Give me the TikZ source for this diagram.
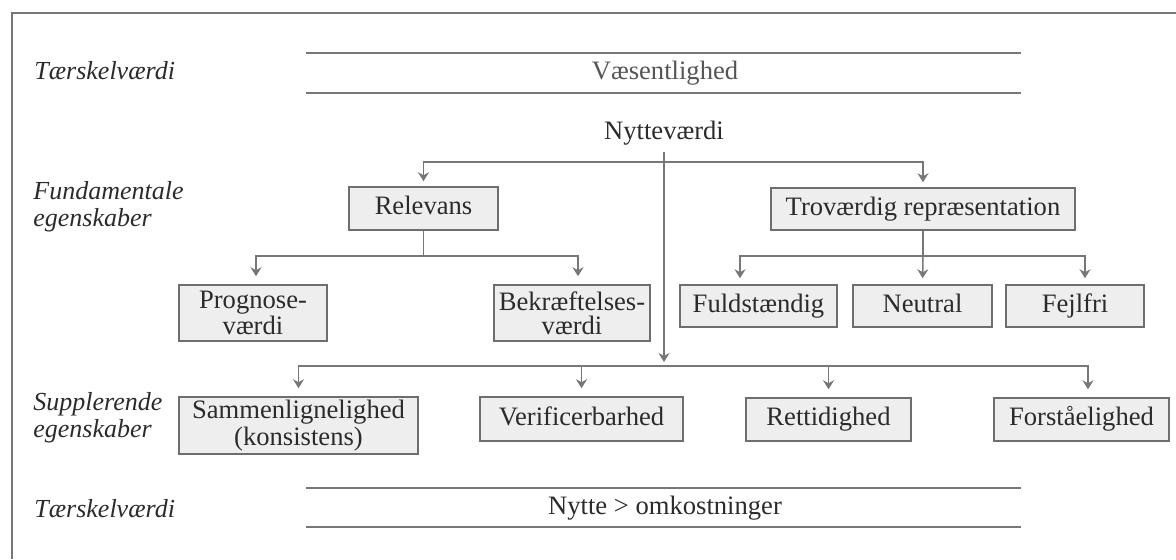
\documentclass[tikz,border=0pt]{standalone}
\usepackage{fontspec}
\setmainfont{Liberation Serif}
\usetikzlibrary{arrows.meta,calc}
\definecolor{boxfill}{HTML}{EEEEEE}
\definecolor{boxline}{HTML}{6E6E6E}
\definecolor{txt}{HTML}{2B2B2B}
\definecolor{softtxt}{HTML}{555555}
\definecolor{rulec}{HTML}{777777}
\begin{document}
\begin{tikzpicture}[x=0.5pt,y=-0.5pt,
  box/.style={draw=boxline, fill=boxfill, line width=0.75pt, inner sep=0pt, text=txt,
    font=\fontsize{13.3}{12}\selectfont, align=center},
  one/.style={text height=9.3pt, text depth=2.9pt},
  bx/.style 2 args={minimum width=0.5pt*#1, minimum height=0.5pt*#2},
  conn/.style={draw=rulec, line width=0.75pt},
  arr/.style={conn, -{Stealth[length=4.5pt,width=5.5pt]}},
  lab/.style={anchor=west, text=txt, font=\fontsize{13}{13.5}\selectfont\itshape, align=left, inner sep=0pt},
  plain/.style={text=txt, font=\fontsize{13.3}{14}\selectfont},
  hrule/.style={draw=rulec, line width=0.8pt}]
\useasboundingbox (0,0) rectangle (1176,559);
% outer frame (cropped at right and bottom)
\draw[draw=rulec, line width=1pt] (12,559) -- (12,13) -- (1176,13);

% threshold bands
\draw[hrule] (306,53) -- (1021,53);
\draw[hrule] (306,93) -- (1021,93);
\node[plain, text=softtxt] (vaes) at (665,73) {Væsentlighed};
\draw[hrule] (306,488) -- (1021,488);
\draw[hrule] (306,527) -- (1021,527);
\node[plain] (nyomk) at (665,508) {Nytte > omkostninger};

% row labels
\node[lab] (l1) at (34,71) {Tærskelværdi};
\node[lab] (l2) at (33,206.5) {Fundamentale\\egenskaber};
\node[lab] (l3) at (33,417.5) {Supplerende\\egenskaber};
\node[lab] (l4) at (34,509) {Tærskelværdi};

% nodes
\node[plain] (nytte) at (664,133) {Nytteværdi};
\node[box, one, bx={149}{43}] (rel)  at (423.5,208.5) {Relevans};
\node[box, one, bx={304}{42}] (trov) at (923,209) {Troværdig repræsentation};
\node[box, bx={148}{56}] (prog) at (253,313) {Prognose-\\værdi};
\node[box, bx={156}{56}] (bekr) at (572,313) {Bekræftelses-\\værdi};
\node[box, one, bx={157}{42}] (fuld) at (758.5,306) {Fuldstændig};
\node[box, one, bx={139}{42}] (neut) at (922.5,306) {Neutral};
\node[box, one, bx={138}{42}] (fejl) at (1075,306) {Fejlfri};
\node[box, bx={239}{57}] (sam)  at (298.5,425.5) {Sammenlignelighed\\(konsistens)};
\node[box, one, bx={203}{44}] (ver)  at (581.5,419) {Verificerbarhed};
\node[box, one, bx={165}{43}] (ret)  at (828.5,419.5) {Rettidighed};
\node[box, one, bx={175}{43}] (forst) at (1081.5,419.5) {Forståelighed};

% connectors from Nyttevaerdi
\coordinate (j1) at (664,162);
\coordinate (j2) at (664,366);
\draw[arr, shorten >=2.5pt] (j1) -| (rel.north);
\draw[arr, shorten >=2.5pt] (j1) -| (trov.north);
\draw[arr, shorten >=2pt] (nytte.south) -- (j2);

% Relevans branch
\draw[conn] (rel.south) -- ++(0,25) coordinate (r1);
\draw[arr, shorten >=4pt] (r1) -| ($(prog.north)+(3,0)$);
\draw[arr, shorten >=4pt] (r1) -| ($(bekr.north)+(6,0)$);

% Trovaerdig branch
\draw[conn] (trov.south) -- ++(0,25) coordinate (t1);
\draw[arr, shorten >=3pt] (t1) -| ($(fuld.north)+(-18.5,0)$);
\draw[arr, shorten >=3pt] (t1) -- (neut.north);
\draw[arr, shorten >=3pt] (t1) -| ($(fejl.north)+(10,0)$);

% supplementary row
\draw[arr, shorten >=4pt] (j2) -| (sam.north);
\draw[arr, shorten >=4pt] (j2) -| (ver.north);
\draw[arr, shorten >=4pt] (j2) -| (ret.north);
\draw[arr, shorten >=4pt] (j2) -| ($(forst.north)+(6.5,0)$);
\end{tikzpicture}
\end{document}
